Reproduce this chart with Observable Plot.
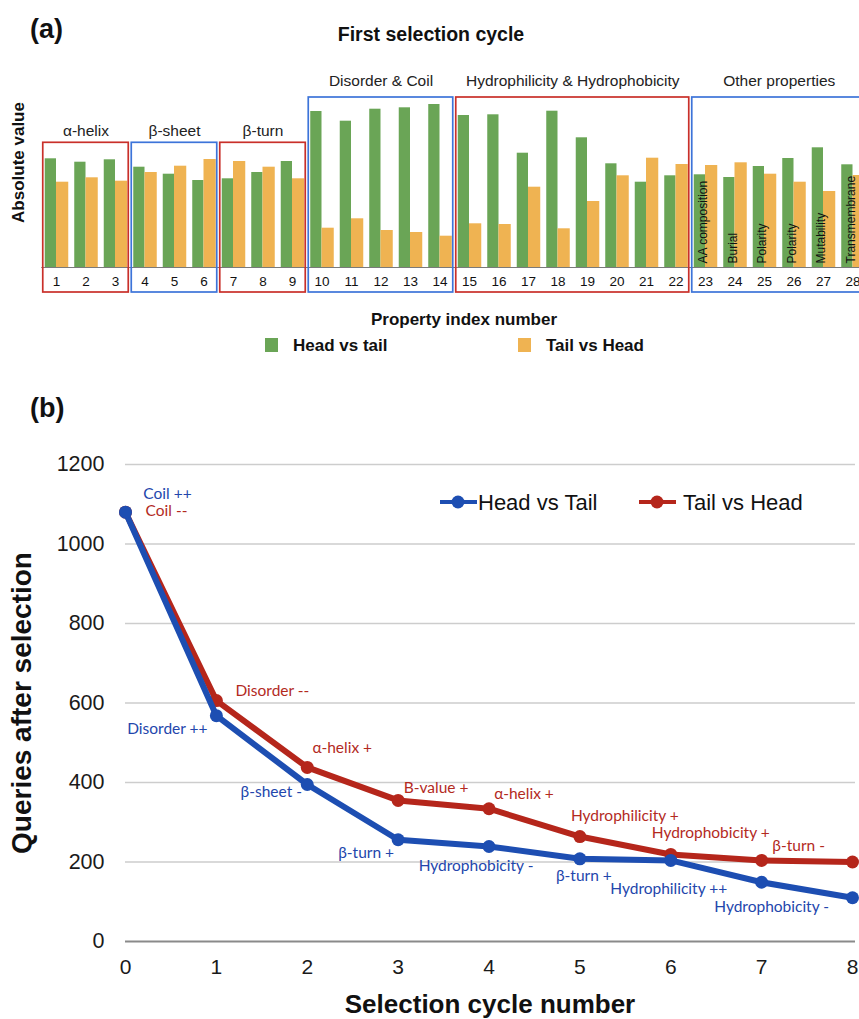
<!DOCTYPE html>
<html><head><meta charset="utf-8">
<script src="https://cdn.jsdelivr.net/npm/d3@7"></script>
<script src="https://cdn.jsdelivr.net/npm/@observablehq/plot@0.6"></script>
<style>
html,body{margin:0;padding:0;background:#fff;overflow:hidden;width:859px;height:1019px}
#root{position:relative;width:859px;height:1019px;font-family:"Liberation Sans",Arial,sans-serif;color:#111}
.lbl{position:absolute;white-space:nowrap;line-height:1}
.plot{position:absolute;left:0}
</style></head><body><div id="root"></div>
<script>
// ---------------- DATA: panel (a) ----------------
const propertyIndex = [1,2,3,4,5,6,7,8,9,10,11,12,13,14,15,16,17,18,19,20,21,22,23,24,25,26,27,28];
const headVsTail = [108.7,105.3,107.7,100.3,93.3,87,88.7,95,106,156,146.3,158.3,159.7,163,152,152.7,114.3,156.3,129.7,103.7,85.3,91.7,92.7,90,101,109,119.7,102.7];
const tailVsHead = [85.3,89.7,86.3,95,101.3,108,106,100.3,88.7,39.3,48.7,37,35,31.3,43.7,43,80.3,38.7,66,91.7,109.3,103,102,104.7,93.3,85.3,76,92];
const groupNames = ["α-helix","β-sheet","β-turn","Disorder & Coil","Hydrophilicity & Hydrophobicity","Other properties"];
const groupFirst = [1,4,7,10,15,23];
const groupLast = [3,6,9,14,22,28];
const otherPropertyIndex = [23,24,25,26,27,28];
const otherPropertyLabels = ["AA composition","Burial","Polarity","Polarity","Mutability","Transmembrane"];
const barSeries = ["Head vs tail","Tail vs Head"];

// ---------------- DATA: panel (b) ----------------
const cycles = [0,1,2,3,4,5,6,7,8];
const headTailQueries = [1080,568,395,256,239,208,204,149,110];
const tailHeadQueries = [1080,606,438,355,334,264,219,204,200];
const headTailLabels = ["Coil ++","Disorder ++","β-sheet -","β-turn +","Hydrophobicity -","β-turn +","Hydrophilicity ++","Hydrophobicity -"];
const tailHeadLabels = ["Coil --","Disorder --","α-helix +","B-value +","α-helix +","Hydrophilicity +","Hydrophobicity +","β-turn -"];
const queryTicks = [0,200,400,600,800,1000,1200];
const lineSeries = ["Head vs Tail","Tail vs Head"];

// ---------------- STYLE / LAYOUT ----------------
const GREEN = "#6aa556", ORANGE = "#efb352";
const BOX_RED = "#c9302a", BOX_BLUE = "#3d74d9";
const LINE_BLUE = "#1d4eb2", LINE_RED = "#b5261b";
const TXT_BLUE = "#2346ac", TXT_RED = "#b32a1e";
// label offsets (px) relative to their point
const headTailLabelOffsets = [[42,-18],[-49,13],[-36,8],[-32,13],[-13,20],[4,17],[-2,29],[10,25]];
const tailHeadLabelOffsets = [[41,-1],[56,-10],[35,-19],[38,-12],[35,-15],[45,-21],[40,-21],[37,-14]];

const root = document.getElementById("root");
function label(txt, o){
  const d = document.createElement("div");
  d.className = "lbl";
  d.textContent = txt;
  d.style.fontSize = o.size + "px";
  d.style.fontWeight = o.bold ? "bold" : "normal";
  if (o.color) d.style.color = o.color;
  if (o.font) d.style.fontFamily = o.font;
  d.style.left = o.x + "px";
  d.style.top = (o.y - 0.5*o.size) + "px";
  let tx = o.anchor === "middle" ? "-50%" : o.anchor === "end" ? "-100%" : "0";
  if (o.rotate) { d.style.transform = "translate(-50%,0) rotate(-90deg)"; d.style.transformOrigin = "50% 50%"; }
  else d.style.transform = `translate(${tx},0)`;
  root.appendChild(d);
  return d;
}

// ---------------- Panel (a) ----------------
const dataA = propertyIndex.map((i,k)=>({i, head: headVsTail[k], tail: tailVsHead[k]}));
const globalMax = d3.max([...headVsTail, ...tailVsHead]);
const shortMax = d3.max(dataA.filter(d=>d.i < groupFirst[3]).flatMap(d=>[d.head,d.tail]));
const groups = groupNames.map((name,k)=>{
  const tall = k >= 3;
  return {name, first: groupFirst[k], last: groupLast[k], color: k%2 ? BOX_BLUE : BOX_RED,
          tall, top: tall ? globalMax + 7 : shortMax + 16};
});
const otherData = otherPropertyIndex.map((i,k)=>({i, label: otherPropertyLabels[k]}));

const plotA = Plot.plot({
  width: 859, height: 300,
  marginTop: 97, marginBottom: 33, marginLeft: 41.25, marginRight: 0,
  x: {type: "linear", domain: [0.5, 28.5], range: [41.25, 867.25]},
  y: {domain: [0, 170], axis: null},
  color: {type: "identity"},
  style: {fontFamily: "'Liberation Sans', Arial, sans-serif", background: "transparent", color: "#111", overflow: "visible"},
  marks: [
    Plot.ruleY([0], {stroke: "#7a7a7a", strokeWidth: 1.2}),
    Plot.rectY(dataA, {x1: d=>d.i-0.5, x2: d=>d.i+0.5, y1: 0, y2: "head", fill: GREEN, insetLeft: 3.5, insetRight: 14.75}),
    Plot.rectY(dataA, {x1: d=>d.i-0.5, x2: d=>d.i+0.5, y1: 0, y2: "tail", fill: ORANGE, insetLeft: 14.75, insetRight: 2.5}),
    Plot.rect(groups, {x1: g=>g.first-0.5, x2: g=>g.last+0.5, y1: 0, y2: "top", stroke: "color", fill: "none", strokeWidth: 1.7, insetLeft: 1.5, insetRight: 1.5, insetBottom: -25}),
    Plot.text(groups.filter(g=>!g.tall), {x: g=>(g.first+g.last)/2, y: "top", text: "name", dy: -12, fontSize: 15.5, fill: "#222"}),
    Plot.text(groups.filter(g=>g.tall), {x: g=>(g.first+g.last)/2, y: "top", text: "name", dy: -16, fontSize: 15.5, fill: "#222"}),
    Plot.text(otherData, {x: "i", y: 0, text: "label", rotate: -90, textAnchor: "start", dx: -2, dy: -4, fontSize: 12, fill: "#111"}),
    Plot.axisX({ticks: propertyIndex, tickSize: 0, tickPadding: 9, fontSize: 13.5, tickFormat: d=>String(d), label: null})
  ]
});
plotA.classList.add("plot");
plotA.style.top = "0px";
root.appendChild(plotA);

label("(a)", {x: 30, y: 29, size: 27, bold: true});
label("First selection cycle", {x: 431, y: 35, size: 19.5, bold: true, anchor: "middle"});
label("Absolute value", {x: 18, y: 162, size: 17, bold: true, rotate: true});
label("Property index number", {x: 464, y: 319, size: 17, bold: true, anchor: "middle"});
// legend (a)
[[barSeries[0], GREEN, 265, 293],[barSeries[1], ORANGE, 518, 546]].forEach(([t,c,sx,tx])=>{
  const s = document.createElement("div");
  s.style.cssText = `position:absolute;left:${sx}px;top:${345-7}px;width:13px;height:14px;background:${c}`;
  root.appendChild(s);
  label(t, {x: tx, y: 345, size: 17, bold: true});
});

// ---------------- Panel (b) ----------------
const headTail = cycles.map((c,k)=>({c, v: headTailQueries[k]}));
const tailHead = cycles.map((c,k)=>({c, v: tailHeadQueries[k]}));
const headTailAnn = headTailLabels.map((t,k)=>({c: cycles[k], v: headTailQueries[k], t, dx: headTailLabelOffsets[k][0], dy: headTailLabelOffsets[k][1]}));
const tailHeadAnn = tailHeadLabels.map((t,k)=>({c: cycles[k], v: tailHeadQueries[k], t, dx: tailHeadLabelOffsets[k][0], dy: tailHeadLabelOffsets[k][1]}));
const annMarks = (arr, color) => arr.map(a => Plot.text([a], {x: "c", y: "v", text: "t", dx: a.dx, dy: a.dy, fill: color, fontSize: 15.5, fontFamily: "Lato, 'Open Sans', sans-serif"}));

const plotB = Plot.plot({
  width: 859, height: 550,
  marginTop: 34, marginBottom: 39, marginLeft: 125, marginRight: 4,
  x: {domain: [0, 8], range: [125, 852]},
  y: {domain: [0, 1200]},
  style: {fontFamily: "'Liberation Sans', Arial, sans-serif", background: "transparent", color: "#1a1a1a", overflow: "visible"},
  marks: [
    Plot.ruleY(queryTicks.filter(v=>v>0), {stroke: "#cdcdcd", strokeWidth: 1.5}),
    Plot.ruleY([0], {stroke: "#8a8a8a", strokeWidth: 2.2}),
    Plot.axisY({ticks: queryTicks, tickSize: 0, tickPadding: 21, fontSize: 21.5, tickFormat: d=>String(d), label: null}),
    Plot.axisX({ticks: cycles, tickSize: 0, tickPadding: 18, fontSize: 21, tickFormat: d=>String(d), label: null}),
    Plot.line(tailHead, {x: "c", y: "v", stroke: LINE_RED, strokeWidth: 6, strokeLinejoin: "round"}),
    Plot.dot(tailHead, {x: "c", y: "v", fill: LINE_RED, r: 6.5}),
    Plot.line(headTail, {x: "c", y: "v", stroke: LINE_BLUE, strokeWidth: 6, strokeLinejoin: "round"}),
    Plot.dot(headTail, {x: "c", y: "v", fill: LINE_BLUE, r: 6.5}),
    ...annMarks(tailHeadAnn, TXT_RED),
    ...annMarks(headTailAnn, TXT_BLUE)
  ]
});
plotB.classList.add("plot");
plotB.style.top = "430px";
root.appendChild(plotB);

label("(b)", {x: 30, y: 408, size: 27, bold: true});
label("Queries after selection", {x: 22, y: 703, size: 28, bold: true, rotate: true});
label("Selection cycle number", {x: 490, y: 1004, size: 26, bold: true, anchor: "middle"});

// legend (b)
const ns = "http://www.w3.org/2000/svg";
const lg = document.createElementNS(ns, "svg");
lg.setAttribute("width", 400); lg.setAttribute("height", 30);
lg.style.cssText = "position:absolute;left:430px;top:487px;overflow:visible";
[[lineSeries[0], LINE_BLUE, 10, 48],[lineSeries[1], LINE_RED, 209, 253]].forEach(([t,c,x0,tx])=>{
  const l = document.createElementNS(ns, "line");
  l.setAttribute("x1", x0); l.setAttribute("x2", x0+37); l.setAttribute("y1", 15); l.setAttribute("y2", 15);
  l.setAttribute("stroke", c); l.setAttribute("stroke-width", 4);
  lg.appendChild(l);
  const ci = document.createElementNS(ns, "circle");
  ci.setAttribute("cx", x0+18); ci.setAttribute("cy", 15); ci.setAttribute("r", 6.5); ci.setAttribute("fill", c);
  lg.appendChild(ci);
  const tt = document.createElementNS(ns, "text");
  tt.setAttribute("x", tx); tt.setAttribute("y", 15); tt.setAttribute("dy", "0.36em");
  tt.setAttribute("font-size", 22); tt.setAttribute("font-family", "'Liberation Sans', Arial, sans-serif");
  tt.setAttribute("fill", "#111");
  tt.textContent = t;
  lg.appendChild(tt);
});
root.appendChild(lg);
</script>
</body></html>
